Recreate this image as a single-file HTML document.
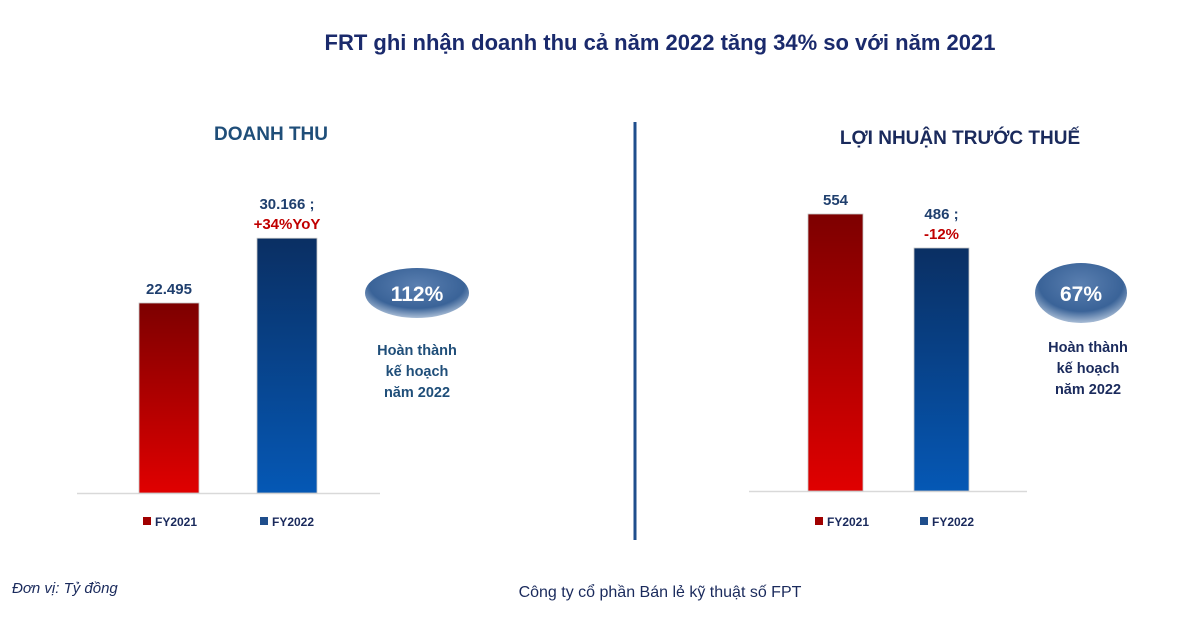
<!DOCTYPE html>
<html><head><meta charset="utf-8"><style>
body{margin:0;background:#fff;width:1200px;height:614px;overflow:hidden;font-family:"Liberation Sans",sans-serif}
</style></head><body>
<svg id="c" width="1200" height="614" xmlns="http://www.w3.org/2000/svg" font-family="Liberation Sans, sans-serif">
<defs>
<linearGradient id="gr" x1="0" y1="0" x2="0" y2="1"><stop offset="0" stop-color="#7d0000"/><stop offset="1" stop-color="#e00000"/></linearGradient>
<linearGradient id="gb" x1="0" y1="0" x2="0" y2="1"><stop offset="0" stop-color="#0a2f63"/><stop offset="1" stop-color="#0558b5"/></linearGradient>
<radialGradient id="ge" cx="0.5" cy="0.35" r="0.65"><stop offset="0" stop-color="#5a7fb0"/><stop offset="0.7" stop-color="#3a6398"/><stop offset="1" stop-color="#a9bdd6"/></radialGradient>
</defs>
<text x="660" y="50" text-anchor="middle" font-size="22" font-weight="bold" fill="#1a2a6c">FRT ghi nhận doanh thu cả năm 2022 tăng 34% so với năm 2021</text>
<text x="271" y="140" text-anchor="middle" font-size="19" font-weight="bold" fill="#1f4e79">DOANH THU</text>
<text x="960" y="144" text-anchor="middle" font-size="19" font-weight="bold" fill="#1a2a5c">LỢI NHUẬN TRƯỚC THUẾ</text>
<line x1="635" y1="122" x2="635" y2="540" stroke="#1f4e8c" stroke-width="3"/>
<g id="left"></g>
<g id="right"></g>
<text x="12" y="593" font-size="15" font-style="italic" fill="#1a2a5c">Đơn vị: Tỷ đồng</text>
<text x="660" y="597" text-anchor="middle" font-size="16" fill="#1a2a5c">Công ty cổ phần Bán lẻ kỹ thuật số FPT</text>
</svg>
<script>
const categories=["FY2021","FY2022"];
const revenueValues=[22495,30166];
const revenueLabels=["22.495","30.166 ;"];
const revenueChange=["","+34%YoY"];
const profitValues=[554,486];
const profitLabels=["554","486 ;"];
const profitChange=["","-12%"];
const revenuePlan="112%";
const profitPlan="67%";
const NS="http://www.w3.org/2000/svg";
function mk(p,t,a){const e=document.createElementNS(NS,t);for(const k in a)e.setAttribute(k,a[k]);p.appendChild(e);return e;}
function draw(g,cfg){
  const y=v=>cfg.base-v*cfg.k;
  const ax=mk(g,'line',{x1:cfg.ax0,x2:cfg.ax1,y1:cfg.base+0.5,y2:cfg.base+0.5,stroke:'#d9d9d9','stroke-width':1.5});
  
  
  cfg.vals.forEach((v,i)=>{
    const x=cfg.bx[i];
    const r=mk(g,'rect',{x:x,y:y(v),width:cfg.bw,height:cfg.base-y(v),fill:i?'url(#gb)':'url(#gr)',stroke:'#c8c8c8','stroke-width':0.8});
    
    
    const cx=x+cfg.bw/2;
    const hasCh=cfg.ch[i]!=="";
    const t=mk(g,'text',{x:cx,y:y(v)-(hasCh?29:9),'text-anchor':'middle','font-size':15,'font-weight':'bold',fill:'#1f3f6e'});
    t.textContent=cfg.lab[i];
    
    
    if(hasCh){const c=mk(g,'text',{x:cx,y:y(v)-9,'text-anchor':'middle','font-size':15,'font-weight':'bold',fill:'#c00000'});
      c.textContent=cfg.ch[i];
      
      }
    const s=mk(g,'rect',{x:cfg.lx[i],y:517,width:8,height:8,fill:i?'#1f4e8c':'#a00000'});
    
    
    const lt=mk(g,'text',{x:cfg.lx[i]+12,y:526,'font-size':12,'font-weight':'bold',fill:'#1a2a5c'});
    lt.textContent=categories[i];
    
    
  });
  const e=mk(g,'ellipse',{cx:cfg.ex,cy:293,rx:cfg.erx,ry:cfg.ery,fill:'url(#ge)'});
  
  
  const et=mk(g,'text',{x:cfg.ex,y:301,'text-anchor':'middle','font-size':21,'font-weight':'bold',fill:'#fff'});
  et.textContent=cfg.plan;
  
  
  ["Hoàn thành","kế hoạch","năm 2022"].forEach((s,j)=>{
    const tt=mk(g,'text',{x:cfg.tx,y:cfg.ty+j*21,'text-anchor':'middle','font-size':14.5,'font-weight':'bold',fill:cfg.tc});
    tt.textContent=s;
    
    
  });
}
draw(document.getElementById('left'),{vals:revenueValues,lab:revenueLabels,ch:revenueChange,base:493,k:190/22495,bx:[139,257],bw:60,ax0:77,ax1:380,lx:[143,260],ex:417,erx:52,ery:25,plan:revenuePlan,tx:417,ty:355,tc:'#1f4e79'});
draw(document.getElementById('right'),{vals:profitValues,lab:profitLabels,ch:profitChange,base:491,k:277/554,bx:[808,914],bw:55,ax0:749,ax1:1027,lx:[815,920],ex:1081,erx:46,ery:30,plan:profitPlan,tx:1088,ty:352,tc:'#1a2a5c'});
</script>
</body></html>
